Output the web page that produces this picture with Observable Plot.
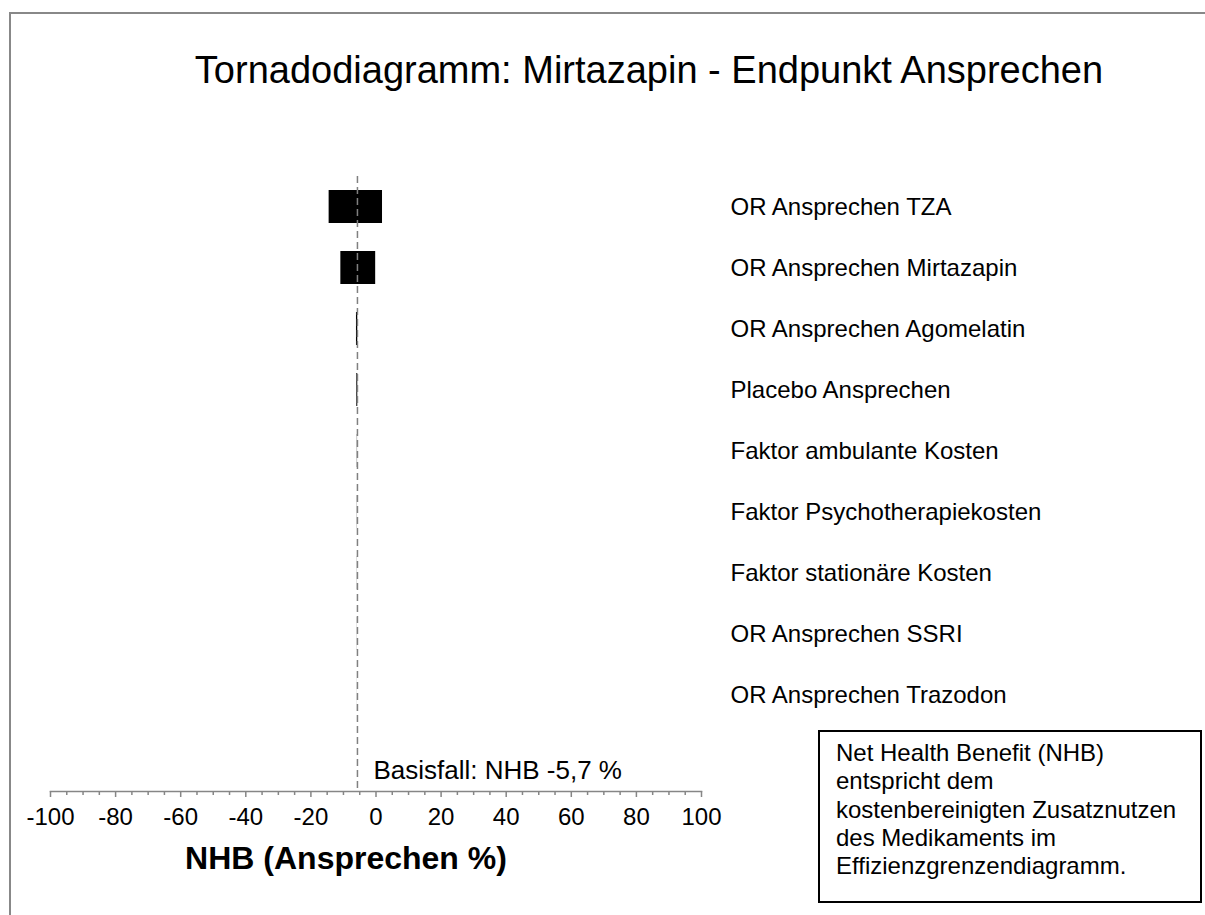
<!DOCTYPE html>
<html>
<head>
<meta charset="utf-8">
<script src="https://cdn.jsdelivr.net/npm/d3@7"></script>
<script src="https://cdn.jsdelivr.net/npm/@observablehq/plot@0.6"></script>
<style>
  body { margin: 0; background: #fff; }
  #wrap { position: relative; width: 1205px; height: 915px; overflow: hidden; font-family: "Liberation Sans", Arial, sans-serif; }
  #border { position: absolute; left: 9px; top: 12px; width: 1400px; height: 1200px; border-top: 2px solid #888; border-left: 2px solid #888; }
  #chart { position: absolute; left: 0; top: 0; }
  #note { position: absolute; left: 818px; top: 730px; width: 384px; height: 173px; box-sizing: border-box; border: 2px solid #000; background: #fff;
          padding: 7px 0 0 16px; font-size: 24px; line-height: 28.3px; color: #000; }
</style>
</head>
<body>
<div id="wrap">
  <div id="border"></div>
  <div id="chart"></div>
  <div id="note"></div>
</div>
<script>
const chartTitle = "Tornadodiagramm: Mirtazapin - Endpunkt Ansprechen";
const axisTitle = "NHB (Ansprechen %)";
const parameters = [
  "OR Ansprechen TZA",
  "OR Ansprechen Mirtazapin",
  "OR Ansprechen Agomelatin",
  "Placebo Ansprechen",
  "Faktor ambulante Kosten",
  "Faktor Psychotherapiekosten",
  "Faktor stationäre Kosten",
  "OR Ansprechen SSRI",
  "OR Ansprechen Trazodon"
];
const lowValues  = [-14.4, -10.8, -6.0, -5.9, -5.74, -5.73, -5.72, -5.72, -5.71];
const highValues = [  2.0,  -0.1, -5.6, -5.6, -5.67, -5.68, -5.68, -5.69, -5.69];
const baseCase = -5.7;
const majorTicks = [-100, -80, -60, -40, -20, 0, 20, 40, 60, 80, 100];
const minorTicks = [-95, -90, -85, -75, -70, -65, -55, -50, -45, -35, -30, -25, -15, -10, -5,
                    5, 10, 15, 25, 30, 35, 45, 50, 55, 65, 70, 75, 85, 90, 95];
const noteLines = [
  "Net Health Benefit (NHB)",
  "entspricht dem",
  "kostenbereinigten Zusatznutzen",
  "des Medikaments im",
  "Effizienzgrenzendiagramm."
];

const rows = parameters.map((name, i) => ({name, low: lowValues[i], high: highValues[i]}));
const fmt = v => String(v).replace(".", ",");

const chart = Plot.plot({
  width: 1205,
  height: 915,
  marginLeft: 50,
  marginRight: 504,
  marginTop: 176,
  marginBottom: 124,
  style: {fontFamily: "Liberation Sans, Arial, sans-serif", background: "transparent", overflow: "visible", color: "#000"},
  x: {domain: [-100, 100]},
  y: {type: "band", domain: parameters, paddingInner: 0.46, paddingOuter: 0.7545, align: 0.144, axis: null},
  marks: [
    Plot.frame({anchor: "bottom", stroke: "#868686", strokeWidth: 1.5}),
    Plot.axisX({ticks: minorTicks, tickSize: 4, tickFormat: () => "", label: null, stroke: "#868686", strokeWidth: 1.5}),
    Plot.axisX({ticks: majorTicks, tickSize: 6, tickPadding: 10, tickFormat: d => String(d), label: null,
                fontSize: 24, stroke: "#868686", strokeWidth: 1.5, fill: "#000"}),
    Plot.barX(rows, {y: "name", x1: "low", x2: "high", fill: "#000"}),
    Plot.ruleX([baseCase], {stroke: "#808080", strokeWidth: 1.5, strokeDasharray: "7,4"}),
    Plot.text([baseCase], {x: d => d, text: d => `Basisfall: NHB ${fmt(d)} %`, frameAnchor: "bottom",
                           textAnchor: "start", lineAnchor: "middle", dx: 16, dy: -21, fontSize: 26, fill: "#000"}),
    Plot.text([axisTitle], {text: d => d, frameAnchor: "bottom", lineAnchor: "middle", dx: -30, dy: 67,
                            fontSize: 32, fontWeight: "bold", fill: "#000"}),
    Plot.text(rows, {y: "name", text: "name", frameAnchor: "right", textAnchor: "start", lineAnchor: "middle",
                     dx: 29, fontSize: 24, fill: "#000"}),
    Plot.text([chartTitle], {text: d => d, frameAnchor: "top", lineAnchor: "middle", dx: 273, dy: -106,
                             fontSize: 38, fill: "#000"})
  ]
});
document.getElementById("chart").appendChild(chart);
document.getElementById("note").innerHTML = noteLines.join("<br>");
</script>
</body>
</html>
